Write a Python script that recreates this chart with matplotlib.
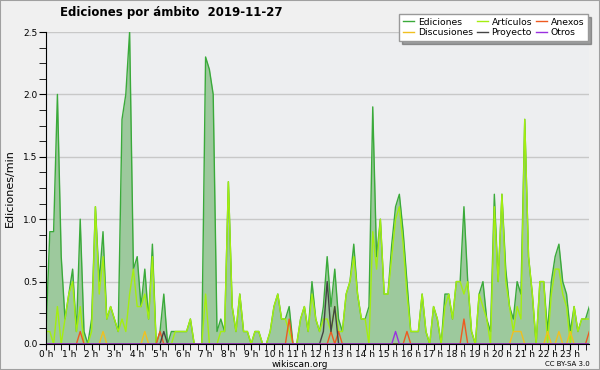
import numpy as np
import matplotlib
matplotlib.use('Agg')
import matplotlib.pyplot as plt
from matplotlib.ticker import MultipleLocator, FixedLocator

plt.rcParams['font.family'] = ['DejaVu Sans']

# edits per minute, one value per 10 minutes (00:00 .. 23:50)
ediciones = [
    0.1, 0.9, 0.9, 2.0, 0.7, 0.2, 0.4, 0.6, 0.1, 1.0,
    0.1, 0.0, 0.2, 1.1, 0.5, 0.9, 0.2, 0.3, 0.2, 0.1,
    1.8, 2.0, 2.5, 0.6, 0.7, 0.3, 0.6, 0.2, 0.8, 0.0,
    0.1, 0.4, 0.0, 0.1, 0.1, 0.1, 0.1, 0.1, 0.2, 0.0,
    0.0, 0.0, 2.3, 2.2, 2.0, 0.1, 0.2, 0.1, 1.3, 0.3,
    0.1, 0.4, 0.1, 0.1, 0.0, 0.1, 0.1, 0.0, 0.0, 0.1,
    0.3, 0.4, 0.2, 0.2, 0.3, 0.0, 0.0, 0.2, 0.3, 0.1,
    0.5, 0.2, 0.1, 0.3, 0.7, 0.3, 0.6, 0.2, 0.1, 0.4,
    0.5, 0.8, 0.4, 0.2, 0.2, 0.3, 1.9, 0.7, 1.0, 0.4,
    0.4, 0.8, 1.1, 1.2, 0.9, 0.5, 0.1, 0.1, 0.1, 0.4,
    0.1, 0.0, 0.3, 0.2, 0.0, 0.4, 0.4, 0.2, 0.5, 0.5,
    1.1, 0.5, 0.1, 0.0, 0.4, 0.5, 0.2, 0.1, 1.2, 0.5,
    1.2, 0.6, 0.3, 0.2, 0.5, 0.4, 1.8, 0.7, 0.4, 0.0,
    0.5, 0.5, 0.1, 0.5, 0.7, 0.8, 0.5, 0.4, 0.1, 0.3,
    0.1, 0.2, 0.2, 0.3,
]
articulos = [
    0.1, 0.1, 0.0, 0.3, 0.0, 0.2, 0.4, 0.5, 0.1, 0.3,
    0.0, 0.0, 0.1, 1.1, 0.4, 0.7, 0.2, 0.3, 0.2, 0.1,
    0.2, 0.1, 0.4, 0.6, 0.3, 0.3, 0.4, 0.2, 0.7, 0.0,
    0.0, 0.0, 0.0, 0.0, 0.1, 0.1, 0.1, 0.1, 0.2, 0.0,
    0.0, 0.0, 0.4, 0.0, 0.0, 0.0, 0.1, 0.1, 1.3, 0.3,
    0.1, 0.4, 0.1, 0.1, 0.0, 0.1, 0.1, 0.0, 0.0, 0.1,
    0.3, 0.4, 0.2, 0.2, 0.1, 0.0, 0.0, 0.2, 0.3, 0.1,
    0.4, 0.2, 0.1, 0.2, 0.2, 0.1, 0.3, 0.1, 0.1, 0.4,
    0.5, 0.7, 0.4, 0.2, 0.2, 0.0, 0.9, 0.6, 1.0, 0.4,
    0.4, 0.7, 1.0, 1.1, 0.8, 0.4, 0.1, 0.1, 0.1, 0.4,
    0.1, 0.0, 0.3, 0.2, 0.0, 0.3, 0.4, 0.2, 0.5, 0.5,
    0.4, 0.5, 0.1, 0.0, 0.4, 0.3, 0.2, 0.0, 1.1, 0.5,
    1.2, 0.5, 0.3, 0.1, 0.3, 0.2, 1.8, 0.7, 0.4, 0.0,
    0.5, 0.5, 0.0, 0.4, 0.6, 0.6, 0.4, 0.3, 0.0, 0.3,
    0.1, 0.2, 0.2, 0.2,
]
# sparse series: {slot index: value}
discusiones = {15: 0.1, 26: 0.1, 123: 0.1, 124: 0.1, 125: 0.1, 132: 0.1, 135: 0.1, 138: 0.1}
anexos = {9: 0.1, 30: 0.1, 64: 0.2, 75: 0.1, 77: 0.1, 95: 0.1, 110: 0.2, 143: 0.1}
proyecto = {31: 0.1, 73: 0.1, 74: 0.5, 75: 0.1, 76: 0.3}
otros = {92: 0.1}

hour_labels = [f"{h} h" for h in range(24)]

N = len(ediciones)
x = np.arange(N) / 6.0


def dense(d):
    v = np.zeros(N)
    for k, val in d.items():
        v[k] = val
    return v


fig = plt.figure(figsize=(6, 3.7), dpi=100, facecolor='#f0f0f0')
fig.patches.append(plt.Rectangle((0, 0), 1, 1, transform=fig.transFigure,
                                 fill=False, edgecolor='#a0a0a0', lw=1.5))
ax = fig.add_axes([0.0767, 0.0703, 0.9055, 0.8432], facecolor='#edeef0')

ax.fill_between(x, ediciones, color='#9dc99d', lw=0)
l_ed, = ax.plot(x, ediciones, color='#3aaa3a', lw=1.0, label='Ediciones')
l_ar, = ax.plot(x, articulos, color='#a4ee10', lw=1.0, label='Artículos')
l_di, = ax.plot(x, dense(discusiones), color='#f0c020', lw=1, label='Discusiones')
l_an, = ax.plot(x, dense(anexos), color='#ee5a20', lw=1, label='Anexos')
l_pr, = ax.plot(x, dense(proyecto), color='#444444', lw=1, label='Proyecto')
l_ot, = ax.plot(x, dense(otros), color='#9a30e0', lw=1, label='Otros')

ax.set_xlim(0, x[-1])
ax.set_ylim(0, 2.5)
ax.yaxis.set_major_locator(MultipleLocator(0.5))
ax.yaxis.set_minor_locator(MultipleLocator(0.125))
ax.yaxis.set_major_formatter(matplotlib.ticker.FormatStrFormatter('%.1f'))
ax.xaxis.set_major_locator(FixedLocator(range(24)))
ax.set_xticklabels(hour_labels)
ax.xaxis.set_minor_locator(MultipleLocator(1 / 3))
ax.tick_params(axis='both', which='both', labelsize=6.5, direction='out')
ax.tick_params(axis='y', which='both', length=5, pad=1)
ax.tick_params(axis='x', which='both', length=4, pad=0)
ax.grid(axis='y', color='#c8c8c8', lw=1)
ax.set_axisbelow(True)
for s in ['top', 'right']:
    ax.spines[s].set_visible(False)

ax.set_ylabel('Ediciones/min', fontsize=8, labelpad=6)
fig.text(0.285, 0.965, 'Ediciones por ámbito  2019-11-27', fontsize=8.5,
         fontweight='bold', ha='center', va='center')
fig.text(0.5, 0.016, 'wikiscan.org', fontsize=6.5, ha='center', va='center')
fig.text(0.983, 0.016, 'CC BY-SA 3.0', fontsize=5, ha='right', va='center')

fig.legend(handles=[l_ed, l_di, l_ar, l_pr, l_an, l_ot], ncol=3,
           loc='upper right', bbox_to_anchor=(0.988, 0.975), fontsize=6.7,
           frameon=True, fancybox=False, shadow=True, edgecolor='#999999',
           handlelength=1.2, handletextpad=0.4, columnspacing=0.4,
           labelspacing=0.2, borderpad=0.4)

fig.savefig('out.png', dpi=100, facecolor=fig.get_facecolor())
